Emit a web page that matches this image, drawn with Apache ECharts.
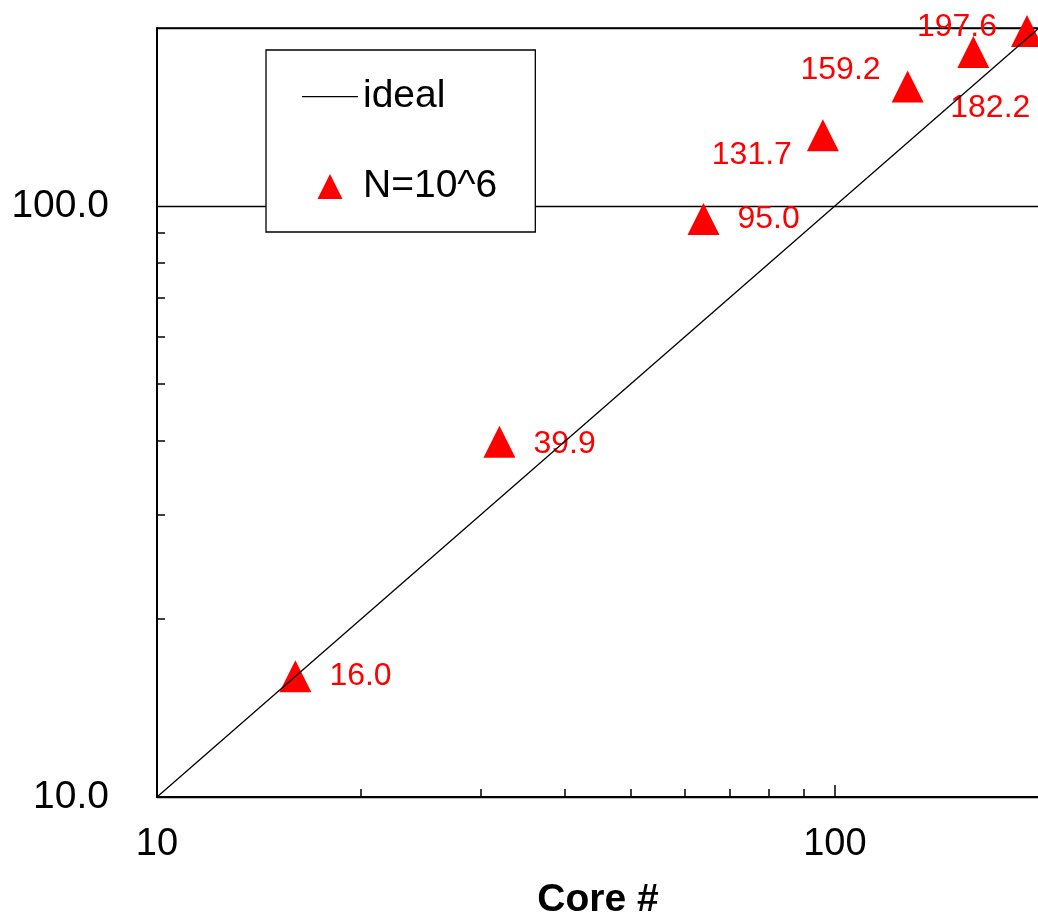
<!DOCTYPE html>
<html><head><meta charset="utf-8">
<script src="https://cdn.jsdelivr.net/npm/echarts@6/dist/echarts.min.js"></script>
<style>html,body{margin:0;padding:0;background:#fff;} #chart{width:1038px;height:915px;}</style>
</head><body><div id="chart"></div>
<script>
// ---- data ----
const cores = [16, 32, 64, 96, 128, 160, 192];
const speedup = [16.0, 39.9, 95.0, 131.7, 159.2, 182.2, 197.6];
const idealCores = [10, 200];
const idealSpeedup = [10, 200];
const minorTickValues = [20, 30, 40, 50, 60, 70, 80, 90];
const seriesNames = ['ideal', 'N=10^6'];
const xAxisTitle = 'Core #';
const yAxisTitle = 'Speedup';

// ---- label placement (styling, not data) ----
const labelPlacement = [
  { position: 'right', distance: 18, offset: [0, 0] },
  { position: 'right', distance: 18, offset: [0, 2] },
  { position: 'right', distance: 18, offset: [0, 0] },
  { position: 'left', distance: 15, offset: [0, 20] },
  { position: 'left', distance: 11, offset: [0, -16] },
  { position: 'bottom', distance: 24, offset: [17, 0] },
  { position: 'left', distance: 14, offset: [0, -4] }
];

const FONT = 'Liberation Sans';
const chart = echarts.init(document.getElementById('chart'), null, { renderer: 'canvas' });

const baseLog = { type: 'log', logBase: 10, min: 10, max: 200 };
// legend icons drawn inside a fixed 56x25 box (invisible corner points keep the box)
const triangleIcon = 'path://M0,0L0,0M56,25L56,25M28,0L40.5,25L15.5,25Z';
const lineIcon = 'path://M0,0L0,0M56,25L56,25M0,11.9L56,11.9L56,13.2L0,13.2Z';

const option = {
  animation: false,
  backgroundColor: '#fff',
  grid: {
    left: 157, top: 28, width: 882, height: 769,
    outerBoundsMode: 'none', containLabel: false,
    show: true, borderColor: '#000', borderWidth: 1.3, backgroundColor: 'transparent'
  },
  legend: {
    data: [
      { name: seriesNames[0], icon: lineIcon, itemStyle: { color: '#000' } },
      { name: seriesNames[1], icon: triangleIcon }
    ],
    orient: 'vertical',
    left: 266, top: 50,
    padding: [27, 38, 26, 36],
    itemWidth: 56, itemHeight: 25,
    itemGap: 51,
    symbolKeepAspect: true,
    backgroundColor: '#fff', borderColor: '#000', borderWidth: 1.3, borderRadius: 0,
    selectedMode: false,
    textStyle: { fontSize: 39, color: '#000', fontFamily: FONT, lineHeight: 36 }
  },
  xAxis: [
    Object.assign({}, baseLog, {
      gridIndex: 0, position: 'bottom',
      axisLine: { show: true, lineStyle: { color: '#000', width: 2 } },
      axisTick: { show: true, inside: true, length: 12, lineStyle: { color: '#000', width: 1.5 } },
      axisLabel: { show: true, color: '#000', fontSize: 38, fontFamily: FONT, margin: 29, showMaxLabel: false, formatter: v => String(Math.round(v)) },
      splitLine: { show: false },
      name: xAxisTitle, nameLocation: 'middle', nameGap: 84,
      nameTextStyle: { fontSize: 39, fontWeight: 'bold', color: '#000', fontFamily: FONT }
    }),
    Object.assign({}, baseLog, {
      gridIndex: 0, position: 'bottom',
      axisLine: { show: false },
      axisTick: { show: true, inside: true, length: 8, customValues: minorTickValues, lineStyle: { color: '#000', width: 1.5 } },
      axisLabel: { show: false },
      splitLine: { show: false }
    })
  ],
  yAxis: [
    Object.assign({}, baseLog, {
      gridIndex: 0, position: 'left',
      axisLine: { show: true, lineStyle: { color: '#000', width: 2 } },
      axisTick: { show: false },
      axisLabel: { show: true, color: '#000', fontSize: 39, fontFamily: FONT, margin: 48, showMaxLabel: false, formatter: v => Number(v).toFixed(1) },
      splitLine: { show: true, lineStyle: { color: '#000', width: 1.3 } },
      name: yAxisTitle, nameLocation: 'middle', nameGap: 150, nameRotate: 90,
      nameTextStyle: { fontSize: 44, fontWeight: 'bold', color: '#000', fontFamily: FONT }
    }),
    Object.assign({}, baseLog, {
      gridIndex: 0, position: 'left',
      axisLine: { show: false },
      axisTick: { show: true, inside: true, length: 8, customValues: minorTickValues, lineStyle: { color: '#000', width: 1.5 } },
      axisLabel: { show: false },
      splitLine: { show: false }
    })
  ],
  series: [
    {
      name: seriesNames[1], type: 'scatter', xAxisIndex: 0, yAxisIndex: 0, z: 2,
      symbol: 'triangle', symbolSize: 32,
      itemStyle: { color: '#ff0000', opacity: 1 },
      label: { show: true, color: '#ff0000', fontSize: 32, fontFamily: FONT, formatter: p => p.value[1].toFixed(1) },
      data: cores.map((c, i) => ({ value: [c, speedup[i]], label: labelPlacement[i] }))
    },
    {
      name: seriesNames[0], type: 'line', xAxisIndex: 0, yAxisIndex: 0, z: 3,
      symbol: 'none', silent: true,
      lineStyle: { color: '#000', width: 1.3 },
      itemStyle: { color: '#000' },
      data: idealCores.map((c, i) => [c, idealSpeedup[i]])
    }
  ]
};
chart.setOption(option);
</script>
</body></html>
